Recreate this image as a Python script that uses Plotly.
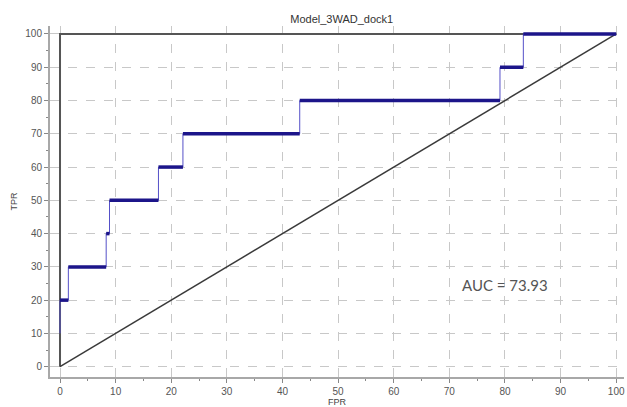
import plotly.graph_objects as go

# ROC step points (FPR %, TPR %)
fpr = [0, 0, 1.5, 8.3, 8.9, 17.7, 22.1, 43.1, 79.1, 83.3, 100]
tpr = [10, 20, 30, 40, 50, 60, 70, 80, 90, 100, 100]

# reference lines
perfect_x = [0, 0, 100]
perfect_y = [0, 100, 100]
diag_x = [0, 100]
diag_y = [0, 100]

title = "Model_3WAD_dock1"
auc_label = "AUC = 73.93"
auc_pos = (80, 24.5)

tick_vals = list(range(0, 101, 10))

fig = go.Figure()

fig.add_trace(go.Scatter(x=perfect_x, y=perfect_y, mode="lines",
                         line=dict(color="#555555", width=2), showlegend=False, hoverinfo="skip"))
fig.add_trace(go.Scatter(x=diag_x, y=diag_y, mode="lines",
                         line=dict(color="#3a3a3a", width=1.5), showlegend=False, hoverinfo="skip"))

# thin step curve (vertical parts)
fig.add_trace(go.Scatter(x=fpr, y=tpr, mode="lines", line_shape="hv",
                         line=dict(color="#5550c8", width=1), showlegend=False))

# thick horizontal segments
hx, hy = [], []
for i in range(len(fpr) - 1):
    hx += [fpr[i], fpr[i + 1], None]
    hy += [tpr[i], tpr[i], None]
fig.add_trace(go.Scatter(x=hx, y=hy, mode="lines",
                         line=dict(color="#1c158a", width=3.5), showlegend=False))

fig.add_annotation(x=auc_pos[0], y=auc_pos[1], text=auc_label, showarrow=False,
                   font=dict(family="Lato, Open Sans, sans-serif", size=15, color="#555555"))

axis_common = dict(
    tickvals=tick_vals,
    showgrid=True, gridcolor="#c8c8c8", griddash="dash", gridwidth=1,
    zeroline=False,
    showline=True, linecolor="#a8a8a8", linewidth=2,
    ticks="outside", ticklen=4, tickcolor="#888888",
    tickfont=dict(family="Liberation Sans, Arial, sans-serif", size=10, color="#555555"),
    minor=dict(dtick=5, ticks="outside", ticklen=2, tickcolor="#888888", showgrid=False),
)

fig.update_xaxes(range=[-1.8, 101.4], title=dict(text="FPR", standoff=2,
                 font=dict(family="Liberation Sans, Arial, sans-serif", size=9, color="#444444")),
                 **axis_common)
fig.update_yaxes(range=[-3.1, 102.4], title=dict(text="TPR", standoff=6,
                 font=dict(family="Liberation Sans, Arial, sans-serif", size=9, color="#444444")),
                 **axis_common)

fig.update_layout(
    width=627, height=407,
    margin=dict(l=50, r=2, t=26, b=27),
    paper_bgcolor="white", plot_bgcolor="white",
    title=dict(text=title, x=0.545, xanchor="center", y=0.953, yanchor="middle",
               font=dict(family="Liberation Sans, Arial, sans-serif", size=11, color="#333333")),
)

fig.write_html("out.html")
